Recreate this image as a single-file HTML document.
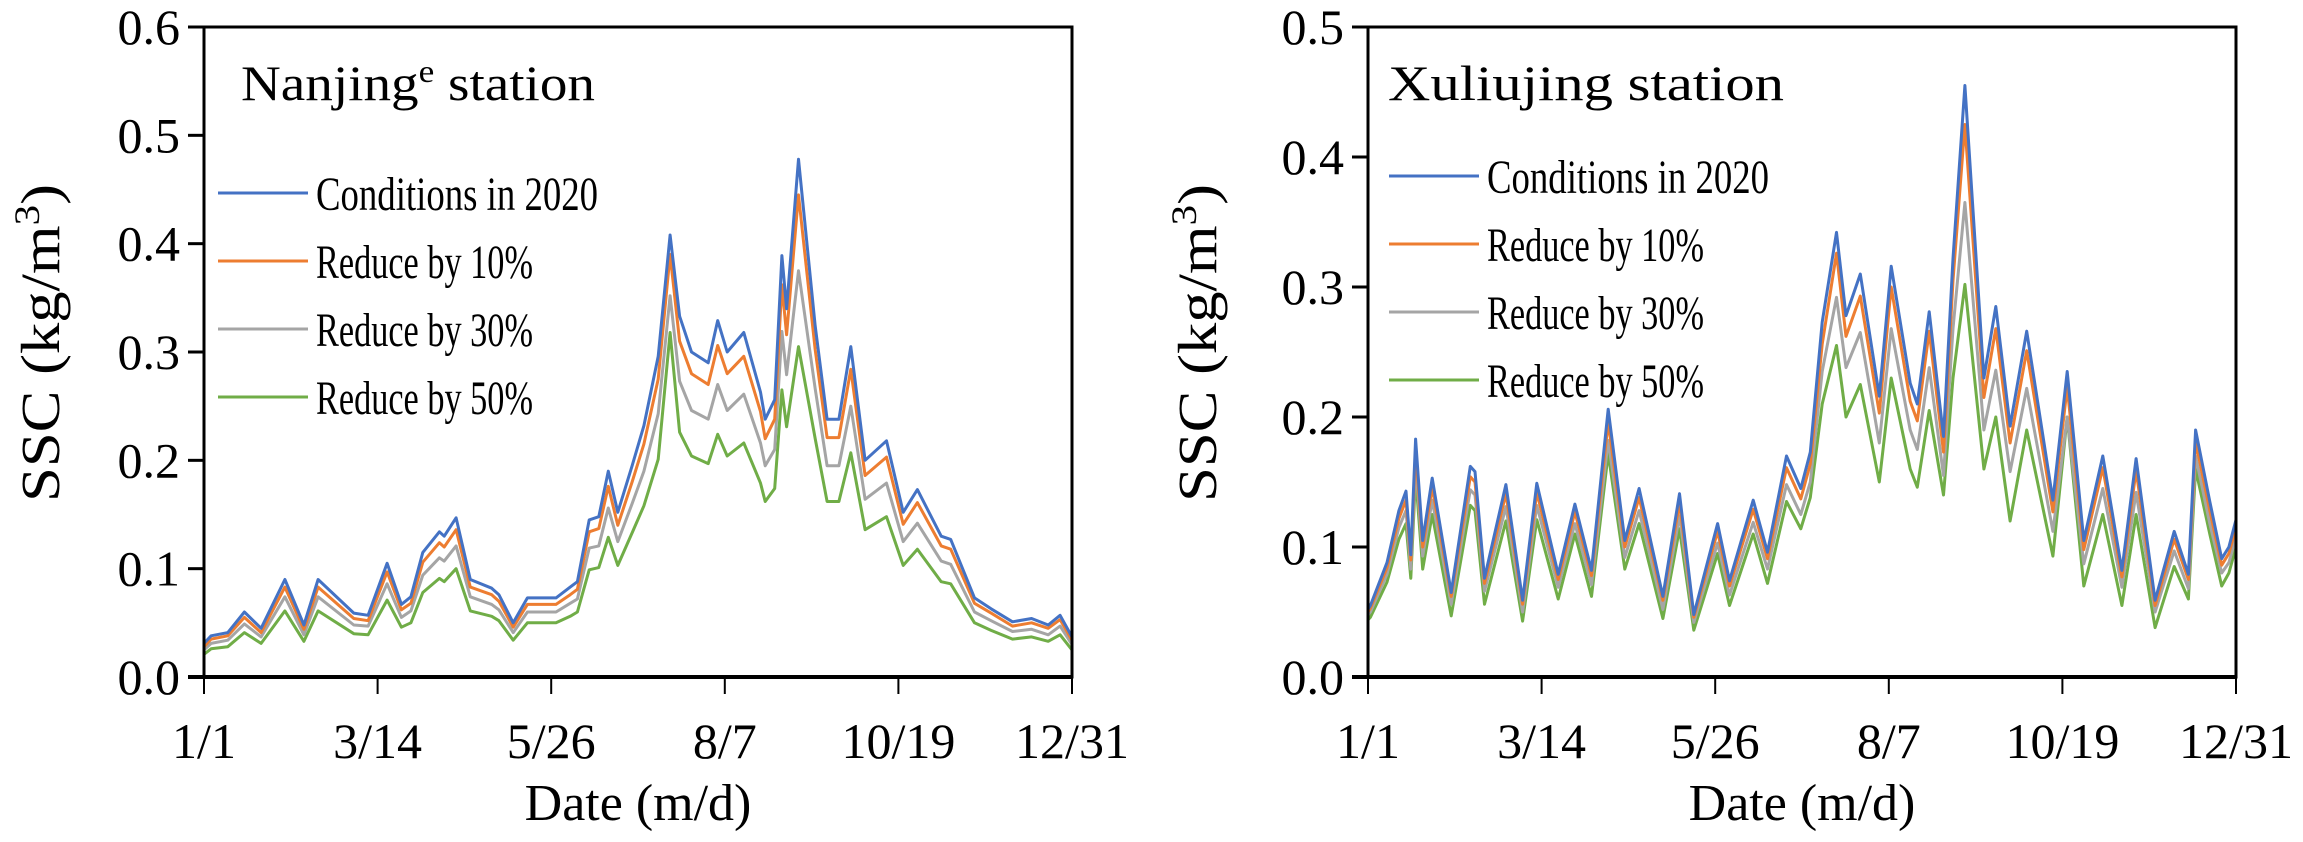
<!DOCTYPE html>
<html><head><meta charset="utf-8">
<style>
html,body{margin:0;padding:0;background:#fff;}
svg{display:block;font-family:"Liberation Serif",serif;}
</style></head>
<body>
<svg id="root" width="2303" height="842" viewBox="0 0 2303 842" xmlns="http://www.w3.org/2000/svg"></svg>
<script>
const NS="http://www.w3.org/2000/svg";
const xTickLabels=["1/1","3/14","5/26","8/7","10/19","12/31"];
const xTickDays=[0,73,146,219,292,365];
const seriesNames=["Conditions in 2020","Reduce by 10%","Reduce by 30%","Reduce by 50%"];
const seriesColors=["#4472C4","#ED7D31","#A5A5A5","#70AD47"];

const nanjingDays=[0,3,10,17,24,34,42,48,63,69,77,83,87,92,99,101,106,112,121,124,130,136,148,154,157,162,166,170,174,180,185,191,196,200,205,212,216,220,227,234,236,240,243,245,250,257,262,267,272,278,287,294,300,310,314,324,331,340,348,355,360,365];
const nanjingBase=[.031,.038,.041,.060,.045,.090,.048,.090,.059,.057,.105,.067,.074,.115,.134,.130,.147,.090,.082,.076,.050,.073,.073,.083,.088,.145,.148,.190,.152,.195,.232,.296,.408,.333,.300,.290,.329,.300,.318,.263,.238,.256,.389,.340,.478,.324,.238,.238,.305,.200,.218,.152,.173,.130,.127,.073,.063,.051,.054,.048,.057,.037];
const nanjingR10=[.028,.035,.038,.055,.041,.083,.044,.083,.054,.052,.097,.062,.068,.106,.124,.120,.136,.083,.076,.070,.046,.067,.067,.076,.081,.134,.137,.176,.140,.180,.215,.275,.390,.310,.280,.270,.306,.280,.296,.245,.220,.238,.362,.316,.445,.302,.221,.221,.284,.186,.203,.141,.161,.121,.118,.068,.059,.047,.050,.045,.053,.034];
const nanjingR30=[.025,.031,.034,.049,.037,.074,.039,.074,.048,.047,.086,.055,.061,.094,.110,.107,.121,.074,.067,.062,.041,.060,.060,.068,.072,.119,.121,.156,.125,.160,.190,.243,.352,.273,.246,.238,.270,.246,.261,.216,.195,.210,.319,.279,.375,.266,.195,.195,.250,.164,.179,.125,.142,.107,.104,.060,.052,.042,.044,.039,.047,.030];
const nanjingR50=[.021,.026,.028,.041,.031,.061,.033,.061,.040,.039,.071,.046,.050,.078,.091,.088,.100,.061,.056,.052,.034,.050,.050,.056,.060,.099,.101,.129,.103,.133,.158,.201,.318,.226,.204,.197,.224,.204,.216,.179,.162,.174,.265,.231,.305,.220,.162,.162,.207,.136,.148,.103,.118,.088,.086,.050,.043,.035,.037,.033,.039,.025];

const xuliuDays=[0,1,8,13,16,18,20,23,27,35,43,45,49,58,65,71,80,87,94,101,108,114,124,131,137,147,152,162,168,176,182,186,191,197,201,207,215,220,228,231,236,242,246,251,259,264,270,277,288,294,301,309,317,323,331,339,345,348,354,359,362,365];
const xuliuBase=[.052,.055,.088,.128,.143,.094,.183,.105,.153,.065,.162,.158,.076,.148,.059,.149,.079,.133,.082,.206,.105,.145,.062,.141,.048,.118,.074,.136,.096,.170,.145,.173,.273,.342,.278,.310,.216,.316,.226,.210,.281,.185,.322,.455,.230,.285,.193,.266,.136,.235,.105,.170,.082,.168,.059,.112,.079,.190,.135,.091,.100,.121];
const xuliuR10=[.050,.053,.084,.122,.136,.090,.175,.100,.146,.062,.154,.150,.072,.141,.056,.142,.075,.127,.078,.196,.100,.138,.059,.134,.046,.112,.070,.129,.091,.161,.137,.164,.256,.326,.262,.293,.203,.300,.212,.197,.266,.173,.305,.425,.215,.268,.180,.251,.127,.223,.098,.161,.077,.159,.055,.106,.075,.181,.128,.086,.095,.115];
const xuliuR30=[.048,.050,.079,.115,.128,.083,.165,.093,.136,.056,.144,.140,.066,.131,.050,.132,.069,.118,.071,.182,.092,.128,.052,.124,.042,.103,.063,.119,.083,.148,.125,.150,.235,.292,.238,.265,.180,.268,.190,.175,.238,.155,.268,.365,.190,.236,.158,.222,.112,.200,.087,.145,.069,.142,.050,.097,.068,.170,.118,.080,.088,.108];
const xuliuR50=[.044,.046,.073,.106,.118,.076,.155,.083,.125,.047,.132,.128,.056,.120,.043,.121,.060,.110,.062,.172,.083,.118,.045,.114,.036,.095,.055,.110,.072,.135,.114,.138,.210,.255,.200,.225,.150,.230,.160,.146,.205,.140,.230,.302,.160,.200,.120,.190,.093,.200,.070,.125,.055,.125,.038,.085,.060,.160,.110,.070,.080,.100];

const legendLens=[282,217,217,217];
const root=document.getElementById('root');
function mk(tag,attrs,parent){const e=document.createElementNS(NS,tag);for(const k in attrs)e.setAttribute(k,attrs[k]);(parent||root).appendChild(e);return e;}

function drawChart(cfg){
  const g=mk('g',{});
  
  
  const L=cfg.left,R=cfg.right,T=27,B=677;
  const xs=d=>L+(d/365)*(R-L);
  const ys=v=>B-(v/cfg.ymax)*(B-T);
  const sets=[cfg.s0,cfg.s1,cfg.s2,cfg.s3];
  for(let s=3;s>=0;s--){
    let d='';
    cfg.days.forEach((day,i)=>{d+=(i?'L':'M')+xs(day).toFixed(1)+' '+ys(sets[s][i]).toFixed(1);});
    const p=mk('path',{d:d,fill:'none',stroke:seriesColors[s],'stroke-width':3,'stroke-linejoin':'round'},g);
    
    
  }
  const fr=mk('rect',{x:L,y:T,width:R-L,height:B-T,fill:'none',stroke:'#000','stroke-width':3},g);
  
  
  const xa=mk('line',{x1:L-16,x2:R,y1:B,y2:B,stroke:'#000','stroke-width':4},g);
  
  
  const nT=Math.round(cfg.ymax/0.1);
  for(let i=0;i<=nT;i++){
    const v=i*0.1,y=ys(v);
    mk('line',{x1:L-16,x2:L,y1:y,y2:y,stroke:'#000','stroke-width':3},g);
    const t=mk('text',{x:L-24,y:y+17,'font-size':50,'text-anchor':'end'},g);
    t.textContent=v.toFixed(1);
    
    
  }
  xTickDays.forEach((day,i)=>{
    const x=xs(day);
    mk('line',{x1:x,x2:x,y1:B,y2:B+17,stroke:'#000','stroke-width':2},g);
    const t=mk('text',{x:x,y:758,'font-size':50,'text-anchor':'middle'},g);
    t.textContent=xTickLabels[i];
    
    
  });
  const xt=mk('text',{x:(L+R)/2,y:820,'font-size':52,'text-anchor':'middle'},g);
  xt.textContent='Date (m/d)';
  
  
  const yt=mk('text',{x:0,y:0,'font-size':55,'text-anchor':'middle',textLength:318,lengthAdjust:'spacingAndGlyphs',transform:'translate('+(cfg.ytx+19)+','+cfg.yty+') rotate(-90)'},g);
  yt.innerHTML='SSC (kg/m<tspan baseline-shift="super" font-size="36">3</tspan>)';
  
  
  const st=mk('text',{x:cfg.titleX,y:100,'font-size':50,textLength:cfg.titleLen,lengthAdjust:'spacingAndGlyphs'},g);
  st.innerHTML=cfg.title;
  
  
  cfg.legY.forEach((ly,i)=>{
    const le=mk('g',{},g);
    
    
    mk('line',{x1:cfg.legX,x2:cfg.legX+90,y1:ly,y2:ly,stroke:seriesColors[i],'stroke-width':3},le);
    const t=mk('text',{x:cfg.legX+98,y:ly+17,'font-size':48,textLength:legendLens[i],lengthAdjust:'spacingAndGlyphs'},le);
    t.textContent=seriesNames[i];
  });
}

drawChart({name:'nanjing-chart',left:204,right:1072,ymax:0.6,days:nanjingDays,s0:nanjingBase,s1:nanjingR10,s2:nanjingR30,s3:nanjingR50,
  ytx:40,yty:343,titleX:241,titleLen:354,title:'Nanjing<tspan baseline-shift="super" font-size="32">e</tspan> station',legX:218,legY:[193,261,329,397]});
drawChart({name:'xuliujing-chart',left:1368,right:2236,ymax:0.5,days:xuliuDays,s0:xuliuBase,s1:xuliuR10,s2:xuliuR30,s3:xuliuR50,
  ytx:1197,yty:343,titleX:1388,titleLen:396,title:'Xuliujing station',legX:1389,legY:[176,244,312,380]});
</script>
</body></html>
